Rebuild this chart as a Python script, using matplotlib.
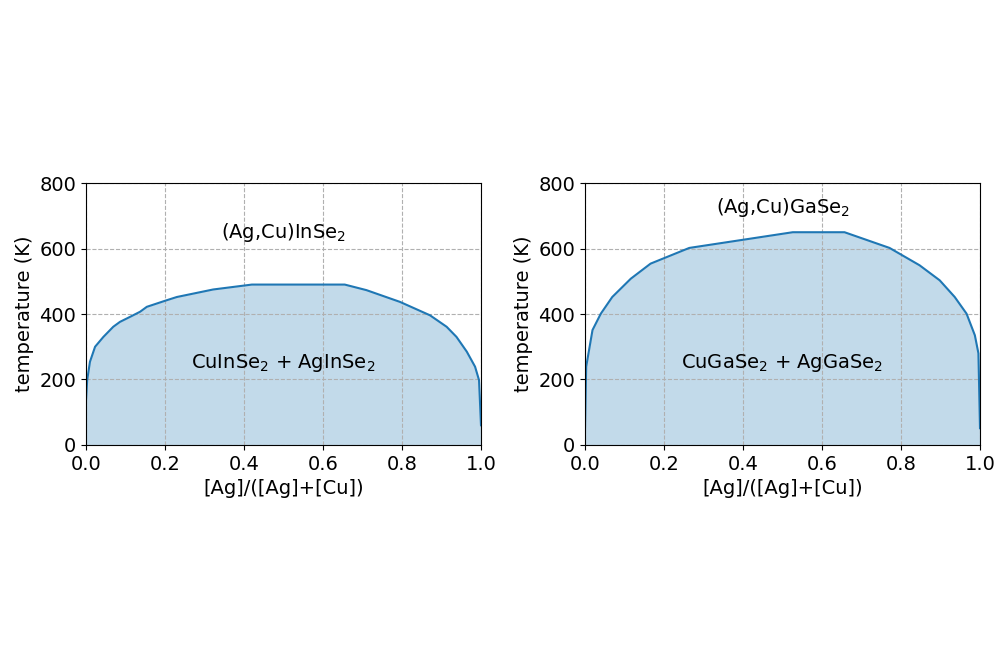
import numpy as np
import matplotlib
matplotlib.use("Agg")
import matplotlib.pyplot as plt

# --- DATA ---
# (Ag,Cu)InSe2 miscibility gap
x_in = [0.0, 0.0, 0.003, 0.01, 0.023, 0.044, 0.069, 0.086, 0.111, 0.137, 0.154,
        0.204, 0.23, 0.322, 0.42, 0.5, 0.655, 0.71, 0.795, 0.871, 0.913,
        0.938, 0.964, 0.985, 0.995, 1.0, 1.0]
t_in = [0, 137, 198, 254, 300, 330, 361, 376, 391, 407, 422,
        442, 452, 475, 490, 490, 490, 473, 437, 396, 361,
        330, 285, 239, 198, 60, 0]

# (Ag,Cu)GaSe2 miscibility gap
x_ga = [0.0, 0.0, 0.003, 0.019, 0.04, 0.069, 0.116, 0.166, 0.264, 0.526,
        0.657, 0.771, 0.847, 0.898, 0.936, 0.966, 0.987, 0.996, 1.0, 1.0]
t_ga = [0, 51, 239, 351, 401, 452, 508, 554, 602, 650,
        650, 602, 549, 503, 452, 401, 335, 280, 51, 0]

panels = [
    (x_in, t_in, r"(Ag,Cu)InSe$_2$", 650, r"CuInSe$_2$ + AgInSe$_2$"),
    (x_ga, t_ga, r"(Ag,Cu)GaSe$_2$", 727, r"CuGaSe$_2$ + AgGaSe$_2$"),
]
xticks = [0.0, 0.2, 0.4, 0.6, 0.8, 1.0]
yticks = [0, 200, 400, 600, 800]

FS = 14
fig = plt.figure(figsize=(10, 6.66), dpi=100)
lefts = [0.086, 0.585]

for left, (xs, ts, top_lbl, top_y, bot_lbl) in zip(lefts, panels):
    ax = fig.add_axes([left, 0.332, 0.395, 0.393])
    xs = np.array(xs)
    ts = np.array(ts)
    ax.fill_between(xs, 0, ts, color="C0", alpha=0.27, lw=0)
    # line starts a bit above the baseline like in the original
    ax.plot(xs[1:-1], ts[1:-1], color="C0", lw=1.5)
    ax.set_xlim(0, 1)
    ax.set_ylim(0, 800)
    ax.set_xticks(xticks)
    ax.set_yticks(yticks)
    ax.tick_params(labelsize=FS)
    ax.set_axisbelow("line")  # grid over the fill, under spines
    ax.grid(True, ls="--", color="#b0b0b0", lw=0.8)
    ax.set_xlabel("[Ag]/([Ag]+[Cu])", fontsize=FS)
    ax.set_ylabel("temperature (K)", fontsize=FS)
    ax.text(0.5, top_y, top_lbl, ha="center", va="center", fontsize=FS)
    ax.text(0.5, 250, bot_lbl, ha="center", va="center", fontsize=FS)

fig.savefig("out.png", dpi=100)
